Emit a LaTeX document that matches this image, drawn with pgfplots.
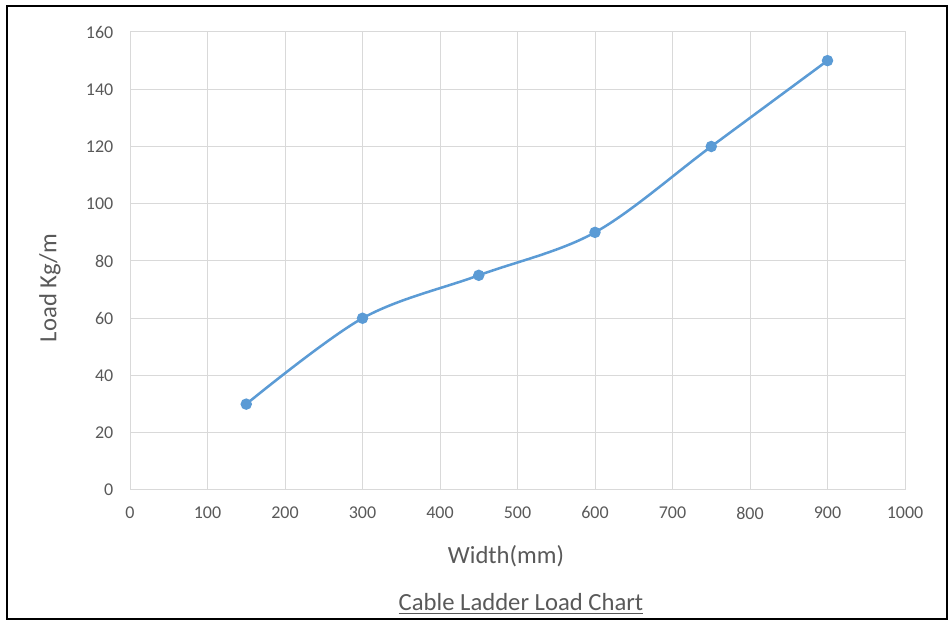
\documentclass[border=0pt]{standalone}
\usepackage{fontspec}
\setmainfont{Carlito}
\usepackage{pgfplots}
\pgfplotsset{compat=1.18}
\definecolor{series}{HTML}{5B9BD5}
\definecolor{gridc}{HTML}{D9D9D9}
\definecolor{txt}{HTML}{595959}
\begin{document}
\begin{tikzpicture}
\path[use as bounding box] (0,0) rectangle (712.5pt,465.75pt);
\draw[line width=1.8pt,black] (5.25pt,1.5pt) rectangle (710.25pt,461.25pt);
\begin{axis}[
  at={(97.5pt,98.25pt)}, anchor=south west,
  scale only axis, width=581.25pt, height=343.5pt,
  xmin=0, xmax=1000, ymin=0, ymax=160,
  xtick={0,100,...,1000}, ytick={0,20,...,160},
  grid=major, major grid style={gridc, line width=0.75pt},
  axis line style={gridc, line width=0.75pt},
  tick style={draw=none},
  ticklabel style={font=\fontsize{13.5pt}{16pt}\selectfont, text=txt},
  /pgf/number format/assume math mode=true,
  /pgf/number format/1000 sep={},
  yticklabel style={xshift=-9pt},
  xticklabel style={yshift=-9pt},
  clip=false,
]
\addplot[series, line width=1.9pt, smooth, tension=0.55, mark=*, mark size=3.3pt, mark options={fill=series, draw=series}]
  coordinates {(150,30) (300,60) (450,75) (600,90) (750,120) (900,150)};
\end{axis}
\node[text=txt, font=\fontsize{18.5pt}{22pt}\selectfont] at (379.5pt,48.75pt) {Width(mm)};
\node[text=txt, font=\fontsize{18.5pt}{22pt}\selectfont, rotate=90] at (37.5pt,249.75pt) {Load Kg/m};
\node[text=txt, font=\fontsize{18.5pt}{22pt}\selectfont] at (390.75pt,13pt) {\underline{Cable Ladder Load Chart}};
\end{tikzpicture}
\end{document}
